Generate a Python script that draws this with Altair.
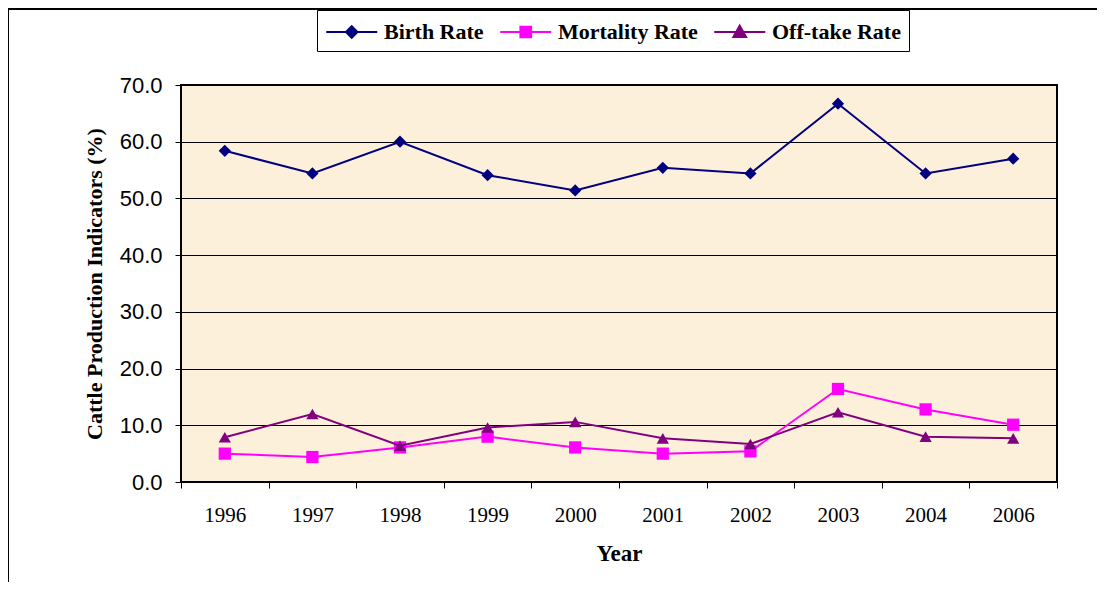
import altair as alt
import pandas as pd

years = ["1996", "1997", "1998", "1999", "2000", "2001", "2002", "2003", "2004", "2006"]
birth_rate = [58.4, 54.4, 60.0, 54.1, 51.4, 55.4, 54.4, 66.7, 54.4, 57.0]
mortality_rate = [5.0, 4.4, 6.1, 8.0, 6.1, 5.0, 5.4, 16.4, 12.8, 10.1]
offtake_rate = [7.9, 12.0, 6.4, 9.6, 10.6, 7.7, 6.7, 12.3, 8.0, 7.7]

series_names = ["Birth Rate", "Mortality Rate", "Off-take Rate"]
series_colors = ["#000080", "#FF00FF", "#800080"]
series_shapes = ["diamond", "square", "triangle-up"]
# legend glyphs: a line segment with the series marker in the middle
legend_paths = [
    "M-1,0L3,0M1,-0.45L1.45,0L1,0.45L0.55,0Z",
    "M-1,0L3,0M0.58,-0.42L1.42,-0.42L1.42,0.42L0.58,0.42Z",
    "M-1,0L3,0M1,-0.5L1.5,0.4L0.5,0.4Z",
]

rows = []
for name, vals in zip(series_names, [birth_rate, mortality_rate, offtake_rate]):
    for y, v in zip(years, vals):
        rows.append({"Year": y, "Value": v, "Series": name})
df = pd.DataFrame(rows)

x_enc = alt.X(
    "Year:N",
    sort=years,
    scale=alt.Scale(type="band", paddingInner=0, paddingOuter=0),
    bandPosition=0.5,
    axis=alt.Axis(
        title="Year",
        labelAngle=0,
        labelFont="Liberation Serif",
        labelFontSize=21,
        labelColor="black",
        labelPadding=16,
        titleFont="Liberation Serif",
        titleFontSize=23,
        titleFontWeight="bold",
        titleColor="black",
        titlePadding=17,
        tickBand="extent",
        tickSize=6,
        tickColor="black",
        domain=False,
        grid=False,
    ),
)
y_enc = alt.Y(
    "Value:Q",
    scale=alt.Scale(domain=[0, 70]),
    axis=alt.Axis(
        title="Cattle Production Indicators (%)",
        values=[0, 10, 20, 30, 40, 50, 60, 70],
        format=".1f",
        labelFont="Liberation Sans",
        labelFontSize=22,
        labelColor="black",
        labelPadding=13,
        titleFont="Liberation Serif",
        titleFontSize=22,
        titleFontWeight="bold",
        titleColor="black",
        titlePadding=13,
        tickSize=6,
        tickColor="black",
        domain=False,
        grid=True,
        gridColor="black",
        gridWidth=1,
    ),
)

layers = []
first = True
for name, shp, col in zip(series_names, series_shapes, series_colors):
    base = alt.Chart(df).transform_filter(alt.datum.Series == name)
    if first:
        ln = base.mark_line(strokeWidth=2, color=col).encode(x=x_enc, y=y_enc)
        first = False
    else:
        ln = base.mark_line(strokeWidth=2, color=col).encode(
            x=alt.X("Year:N", sort=years, bandPosition=0.5), y="Value:Q"
        )
    pt = base.mark_point(filled=True, shape=shp, size=150, opacity=1, color=col).encode(
        x=alt.X("Year:N", sort=years, bandPosition=0.5), y="Value:Q"
    )
    layers += [ln, pt]

legend_layer = alt.Chart(df).mark_point(filled=True, size=0).encode(
    x=alt.X("Year:N", sort=years, bandPosition=0.5),
    y="Value:Q",
    shape=alt.Shape(
        "Series:N",
        scale=alt.Scale(domain=series_names, range=legend_paths),
        legend=alt.Legend(
            title=None,
            orient="none",
            legendX=136,
            legendY=-75,
            direction="horizontal",
            symbolSize=650,
            symbolStrokeWidth=2,
            symbolOpacity=1,
            labelFont="Liberation Serif",
            labelFontSize=22,
            labelFontWeight="bold",
            labelColor="black",
            labelLimit=300,
            columnPadding=12,
            labelOffset=31,
            strokeColor="black",
            padding=8,
            fillColor="white",
        ),
    ),
    fill=alt.Fill("Series:N", scale=alt.Scale(domain=series_names, range=series_colors)),
    stroke=alt.Stroke("Series:N", scale=alt.Scale(domain=series_names, range=series_colors)),
)

frame_left = alt.Chart(df).mark_rule(color="black", strokeWidth=1.5).encode(
    x=alt.value(-173), y=alt.value(-77), y2=alt.value(520)
)
frame_top = alt.Chart(df).mark_rule(color="black", strokeWidth=2).encode(
    x=alt.value(-173), x2=alt.value(930), y=alt.value(-76.5)
)

chart = (
    alt.layer(*layers, legend_layer, frame_left, frame_top)
    .properties(
        width=876,
        height=397,
        autosize=alt.AutoSizeParams(type="none"),
        padding={"left": 173, "top": 77, "right": 40, "bottom": 100},
        background="white",
    )
    .configure_view(fill="#FCF0DA", stroke="black", strokeWidth=2)
)

chart.save("out.html", embed_options={"renderer": "svg", "actions": False})
